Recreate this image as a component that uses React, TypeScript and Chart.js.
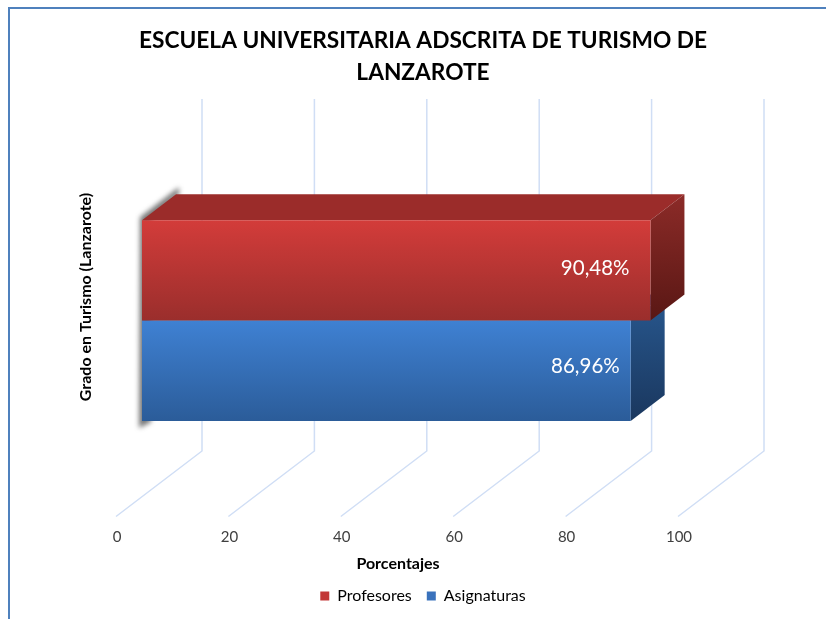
import React, { useEffect, useRef } from "react";
import { Chart, registerables } from "chart.js";

Chart.register(...registerables);

const categories = ["Grado en Turismo (Lanzarote)"];
const seriesNames = ["Profesores", "Asignaturas"];
const profesores = [90.48];
const asignaturas = [86.96];
const tickValues = [0, 20, 40, 60, 80, 100];
const titleLines = ["ESCUELA UNIVERSITARIA ADSCRITA DE TURISMO DE", "LANZAROTE"];
const xTitle = "Porcentajes";

const FONT = "Lato, 'Open Sans', sans-serif";
const DX = 34, DY = -26;
const CAT_PCT = 0.512;

const palette = [
  { front: ["#D33C3A", "#9A2E2C"], top: "#9B2C2A", side: ["#8C2B28", "#591714"], legend: "#C23736" },
  { front: ["#3F81D3", "#2B5C99"], top: "#2A5A96", side: ["#28588F", "#1A375E"], legend: "#3A72BC" },
];

function fmt(v: number) {
  return v.toFixed(2).replace(".", ",") + "%";
}

const decor = {
  id: "decor",
  beforeDatasetsDraw(chart: any) {
    const { ctx, scales } = chart;
    const x = scales.x;
    ctx.save();
    // walls and floor
    ctx.strokeStyle = "#D0DEF5";
    ctx.lineWidth = 1.5;
    tickValues.forEach((t) => {
      const px = x.getPixelForValue(t);
      ctx.beginPath();
      ctx.moveTo(px + 60, 99);
      ctx.lineTo(px + 60, 451);
      ctx.lineTo(px - 26, 516.5);
      ctx.stroke();
    });
    // soft shadow along the left of the bars
    const m0 = chart.getDatasetMeta(0).data[0];
    const m1 = chart.getDatasetMeta(1).data[0];
    const left = x.getPixelForValue(0);
    const top0 = m0.y - m0.height / 2;
    const bot1 = m1.y + m1.height / 2;
    ctx.save();
    ctx.filter = "blur(2.5px)";
    ctx.fillStyle = "rgba(60,60,60,0.7)";
    ctx.beginPath();
    ctx.moveTo(left + DX + 3, top0 + DY - 7);
    ctx.lineTo(left - 2, top0 - 3);
    ctx.lineTo(left - 3, bot1 + 7);
    ctx.lineTo(left + 9, bot1 + 1);
    ctx.lineTo(left + 9, top0);
    ctx.lineTo(left + DX + 3, top0 + DY);
    ctx.closePath();
    ctx.fill();
    ctx.restore();
    // depth faces, back series first
    [1, 0].forEach((i) => {
      const el = chart.getDatasetMeta(i).data[0];
      const xr = el.x, xl = el.base;
      const yt = el.y - el.height / 2, yb = el.y + el.height / 2;
      const c = palette[i];
      ctx.fillStyle = c.top;
      ctx.beginPath();
      ctx.moveTo(xl, yt);
      ctx.lineTo(xl + DX, yt + DY);
      ctx.lineTo(xr + DX, yt + DY);
      ctx.lineTo(xr, yt);
      ctx.closePath();
      ctx.fill();
      const g = ctx.createLinearGradient(0, yt + DY, 0, yb);
      g.addColorStop(0, c.side[0]);
      g.addColorStop(1, c.side[1]);
      ctx.fillStyle = g;
      ctx.beginPath();
      ctx.moveTo(xr, yt);
      ctx.lineTo(xr + DX, yt + DY);
      ctx.lineTo(xr + DX, yb + DY);
      ctx.lineTo(xr, yb);
      ctx.closePath();
      ctx.fill();
      ctx.strokeStyle = "rgba(255,255,255,0.25)";
      ctx.lineWidth = 1;
      ctx.beginPath();
      ctx.moveTo(xr + DX + 0.5, yt + DY);
      ctx.lineTo(xr + DX + 0.5, yb + DY);
      ctx.stroke();
    });
    ctx.restore();
  },
  afterDatasetsDraw(chart: any) {
    const { ctx, data } = chart;
    ctx.save();
    ctx.fillStyle = "#FFFFFF";
    ctx.font = `20.5px ${FONT}`;
    ctx.textAlign = "right";
    ctx.textBaseline = "middle";
    data.datasets.forEach((ds: any, i: number) => {
      const el = chart.getDatasetMeta(i).data[0];
      const offset = i === 0 ? 2 : 4;
      ctx.fillText(fmt(ds.data[0]), el.x - 21 + (i === 0 ? 0 : 10), el.y - offset);
    });
    // axis titles
    ctx.fillStyle = "#000000";
    ctx.font = `bold 16px ${FONT}`;
    ctx.textAlign = "center";
    ctx.fillText(xTitle, 398, 564);
    ctx.translate(86, 297);
    ctx.rotate(-Math.PI / 2);
    ctx.fillText(categories[0], 0, 0);
    ctx.restore();
  },
};

export default function App() {
  const ref = useRef<HTMLCanvasElement>(null);
  useEffect(() => {
    const canvas = ref.current!;
    const grad = (i: number) => (ctx: any) => {
      const area = ctx.chart.chartArea;
      if (!area) return palette[i].legend;
      const mid = (area.top + area.bottom) / 2;
      const h = ((area.bottom - area.top) * CAT_PCT) / 2;
      const y0 = i === 0 ? mid - h : mid;
      const g = ctx.chart.ctx.createLinearGradient(0, y0, 0, y0 + h);
      g.addColorStop(0, palette[i].front[0]);
      g.addColorStop(1, palette[i].front[1]);
      return g;
    };
    const chart = new Chart(canvas, {
      type: "bar",
      data: {
        labels: categories,
        datasets: [
          { label: seriesNames[0], data: profesores, backgroundColor: grad(0) },
          { label: seriesNames[1], data: asignaturas, backgroundColor: grad(1) },
        ],
      },
      options: {
        indexAxis: "y",
        responsive: false,
        animation: false,
        layout: { padding: { left: 20, right: 0, top: 0, bottom: 5 } },
        datasets: { bar: { barPercentage: 1, categoryPercentage: CAT_PCT } },
        scales: {
          x: {
            min: 0,
            max: 100,
            grid: { display: false, drawTicks: false },
            border: { display: false },
            afterBuildTicks(s: any) {
              s.ticks = tickValues.map((value) => ({ value }));
            },
            afterFit(s: any) {
              s.height = 56.4;
            },
            ticks: {
              labelOffset: -25,
              padding: 12,
              color: "#404040",
              font: { family: FONT, size: 15 },
              maxRotation: 0,
            },
          },
          y: {
            grid: { display: false },
            border: { display: false },
            ticks: { display: false },
            afterFit(s: any) {
              s.width = 122;
            },
          },
          yRight: {
            position: "right",
            type: "linear",
            grid: { display: false },
            border: { display: false },
            ticks: { display: false },
            afterFit(s: any) {
              s.width = 122;
            },
          },
        },
        plugins: {
          title: {
            display: true,
            text: titleLines,
            color: "#000000",
            font: { family: FONT, size: 22.7, weight: "bold", lineHeight: 1.41 },
            padding: { top: 24.5, bottom: 36 },
          },
          legend: {
            position: "bottom",
            labels: {
              boxWidth: 9,
              boxHeight: 9,
              padding: 15,
              color: "#404040",
              font: { family: FONT, size: 16 },
              generateLabels(c: any) {
                return c.data.datasets.map((d: any, i: number) => ({
                  text: d.label,
                  fillStyle: palette[i].legend,
                  strokeStyle: palette[i].legend,
                  lineWidth: 0,
                  datasetIndex: i,
                }));
              },
            },
          },
          tooltip: { enabled: false },
        },
      },
      plugins: [decor],
    } as any);
    return () => chart.destroy();
  }, []);
  return (
    <div style={{ position: "absolute", left: 0, top: 0, width: 826, height: 619, overflow: "hidden", background: "#fff" }}>
      <div style={{ position: "absolute", left: 8, top: 7, right: 0, bottom: 0, borderLeft: "2px solid #4F81BD", borderTop: "2px solid #4F81BD" }} />
      <canvas ref={ref} width={826} height={619} style={{ position: "absolute", left: 0, top: 0, display: "block" }} />
    </div>
  );
}
